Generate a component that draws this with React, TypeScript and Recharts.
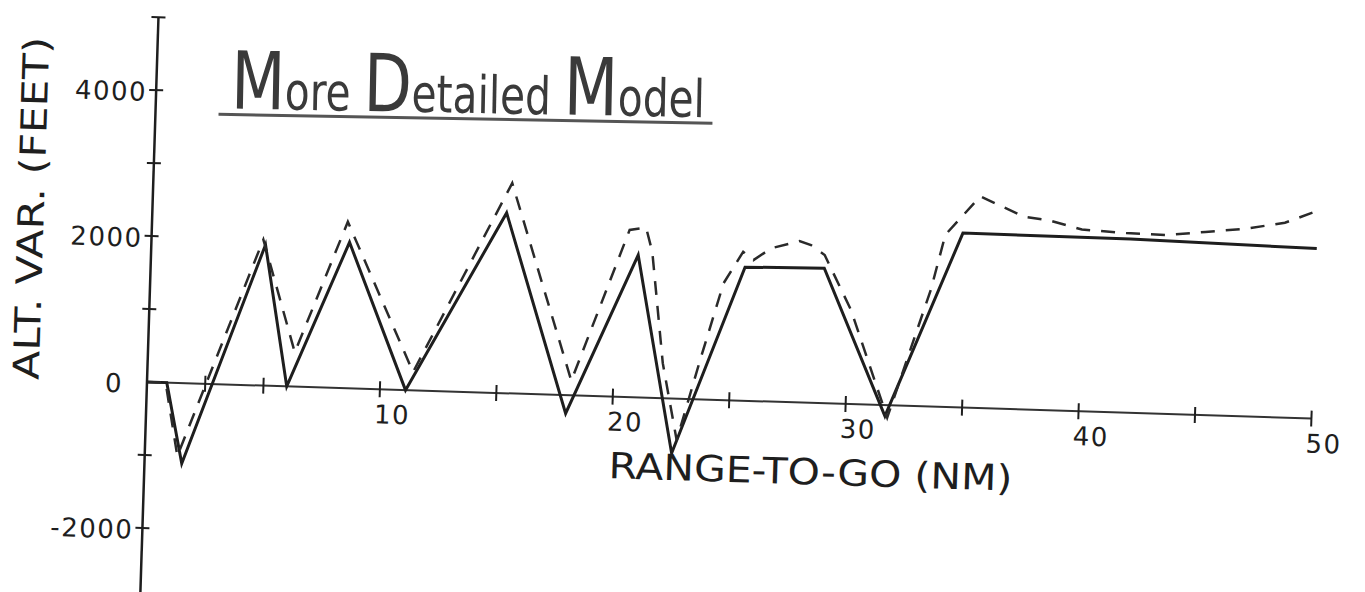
import { Line, LineChart, ReferenceLine, XAxis, YAxis } from "recharts";

// range-to-go (nm) and altitude variation (ft)
const solidRange = [0, 0.85, 1.6, 4.9, 6.0, 8.5, 11.1, 15.2, 18.0, 20.9, 22.6, 25.5, 28.9, 31.7, 34.8, 42.0, 50];
const solidAlt = [0, 0, -1100, 1930, 0, 2000, 0, 2470, -250, 1950, -750, 1830, 1850, -150, 2390, 2380, 2330];

const dashedRange = [
  0, 0.8, 1.4, 4.8, 6.3, 8.4, 11.4, 15.4, 18.2, 20.5, 21.2, 21.5, 22.1, 22.8, 23.7, 24.6, 25.4, 25.85,
  26.6, 27.8, 28.3, 28.9, 30.1, 31.8, 33.5, 34.05, 35.5, 37.4, 38.5, 39.9, 41.8, 43.5, 45.2, 46.9, 48.6, 50,
];
const dashedAlt = [
  0, 0, -1000, 2000, 470, 2280, 250, 2880, 200, 2290, 2330, 2000, 480, -570, 540, 1600, 2040, 1930,
  2100, 2210, 2160, 2030, 1290, -170, 1600, 2360, 2900, 2640, 2600, 2490, 2460, 2450, 2510, 2570, 2670, 2850,
];

const xTicks = [2.5, 5, 10, 15, 20, 25, 30, 35, 40, 45, 50];
const yTicks = [-3000, -2000, -1000, 0, 1000, 2000, 3000, 4000, 5000];

// handwritten title: capitals drawn taller than the rest
const titleParts = [
  { text: "M", big: true },
  { text: "ore ", big: false },
  { text: "D", big: true },
  { text: "etailed ", big: false },
  { text: "M", big: true },
  { text: "odel", big: false },
];

const solidData = solidRange.map((r, i) => ({ range: r, alt: solidAlt[i] }));
const dashedData = dashedRange.map((r, i) => ({ range: r, alt: dashedAlt[i] }));

const W = 1365;
const H = 640;
const TOP = 17;
const LEFT = 147;
const RIGHT = 53;
const X_AXIS_H = 39;
const Y_MIN = -3000;
const Y_MAX = 5000;
const PLOT_H = H - TOP - X_AXIS_H;
const ZERO_Y = TOP + (PLOT_H * Y_MAX) / (Y_MAX - Y_MIN);

const INK = "#1e1e1e";
const FONT = "'DejaVu Sans', sans-serif";

function YTick({ x, y, payload }: any) {
  const v = payload.value;
  return (
    <g>
      {v !== 0 && <line x1={x - 7} x2={x + 7} y1={y} y2={y} stroke={INK} strokeWidth={2} />}
      {v % 2000 === 0 && v > Y_MIN && (
        <text
          x={x - (v === 0 ? 24 : 9)}
          y={y + 2}
          textAnchor="end"
          dominantBaseline="central"
          fontFamily={FONT}
          fontSize={26}
          letterSpacing={1.5}
          fill={INK}
        >
          {v}
        </text>
      )}
    </g>
  );
}

function XTick({ x, payload }: any) {
  const v = payload.value;
  return (
    <g>
      <line x1={x} x2={x} y1={ZERO_Y - 8} y2={ZERO_Y + 8} stroke={INK} strokeWidth={2} />
      {v % 10 === 0 && (
        <text
          x={x + 13}
          y={ZERO_Y + 25}
          textAnchor="middle"
          dominantBaseline="central"
          fontFamily={FONT}
          fontSize={26}
          letterSpacing={1.5}
          fill={INK}
        >
          {v}
        </text>
      )}
    </g>
  );
}

export default function App() {
  return (
    <div style={{ position: "absolute", left: 0, top: 0, width: W, height: 592, overflow: "hidden", background: "#fff" }}>
      <div
        style={{
          position: "absolute",
          left: 0,
          top: 0,
          width: W,
          height: H,
          transform: "rotate(1.8deg)",
          transformOrigin: `${LEFT}px ${ZERO_Y}px`,
        }}
      >
        <LineChart width={W} height={H} margin={{ top: TOP, right: RIGHT, bottom: 0, left: 0 }}>
          <XAxis
            dataKey="range"
            type="number"
            domain={[0, 50]}
            ticks={xTicks}
            interval={0}
            height={X_AXIS_H}
            axisLine={false}
            tickLine={false}
            tick={<XTick />}
          />
          <YAxis
            dataKey="alt"
            type="number"
            domain={[Y_MIN, Y_MAX]}
            ticks={yTicks}
            interval={0}
            width={LEFT}
            tickSize={0}
            tickMargin={0}
            tickLine={false}
            axisLine={{ stroke: INK, strokeWidth: 2.5 }}
            tick={<YTick />}
          />
          <ReferenceLine y={0} stroke="#333" strokeWidth={2} />
          <Line
            data={solidData}
            dataKey="alt"
            type="linear"
            stroke={INK}
            strokeWidth={3}
            dot={false}
            isAnimationActive={false}
          />
          <Line
            data={dashedData}
            dataKey="alt"
            type="linear"
            stroke="#2a2a2a"
            strokeWidth={2.5}
            strokeDasharray="14 11"
            dot={false}
            isAnimationActive={false}
          />
        </LineChart>
        <svg width={W} height={H} style={{ position: "absolute", left: 0, top: 0, pointerEvents: "none" }}>
          <g transform="translate(222 106) rotate(-0.75)">
            <text
              x={0}
              y={0}
              fontFamily="'DejaVu Sans Condensed', 'DejaVu Sans', sans-serif"
              fontSize={52}
              textLength={474}
              lengthAdjust="spacingAndGlyphs"
              fill="#3a3a3a"
            >
              {titleParts.map((p, i) => (
                <tspan key={i} fontSize={p.big ? 80 : 52}>
                  {p.text}
                </tspan>
              ))}
            </text>
            <line x1={-12} x2={482} y1={6} y2={6} stroke="#555" strokeWidth={3} />
          </g>
          <text
            transform="translate(26 212) rotate(-90)"
            textAnchor="middle"
            dominantBaseline="central"
            fontFamily={FONT}
            fontSize={36}
            textLength={343}
            lengthAdjust="spacingAndGlyphs"
            fill={INK}
          >
            ALT. VAR. (FEET)
          </text>
          <text
            x={813}
            y={451}
            textAnchor="middle"
            dominantBaseline="central"
            fontFamily={FONT}
            fontSize={36}
            textLength={404}
            lengthAdjust="spacingAndGlyphs"
            fill={INK}
          >
            RANGE-TO-GO (NM)
          </text>
        </svg>
      </div>
    </div>
  );
}
